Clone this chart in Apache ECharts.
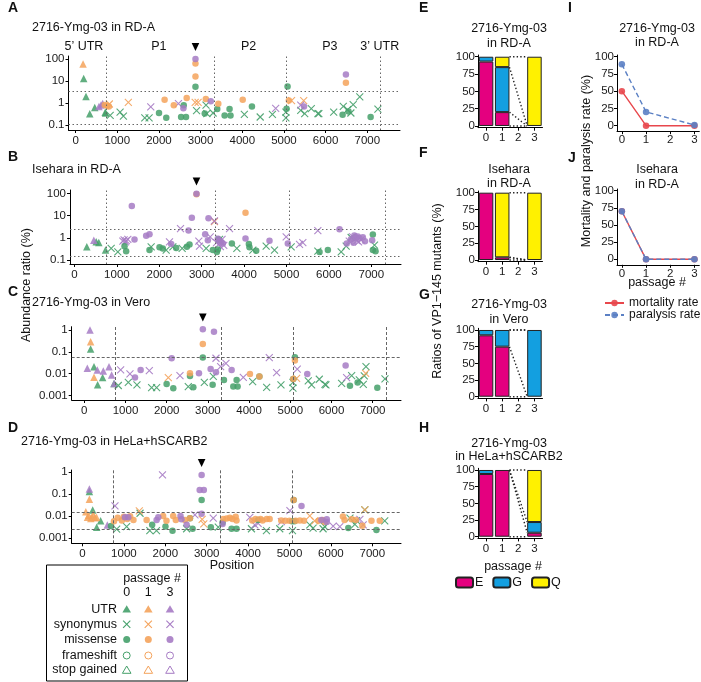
<!DOCTYPE html>
<html>
<head>
<meta charset="UTF-8">
<title>VP1-145 passage figure</title>
<style>
  html, body { margin: 0; padding: 0; background: #fff; }
  #main { width: 701px; height: 682px; }
</style>
</head>
<body>
<div id="main"></div>
<script src="https://cdn.jsdelivr.net/npm/echarts@6/dist/echarts.min.js"></script>
<script>
var FONT = "'Liberation Sans', Arial, Helvetica, sans-serif";

// passage 0, 1, 3
var passColors = ['#45a06a', '#f4a35c', '#a67bc4'];
var passLabels = ['0', '1', '3'];
var typeNames = ['UTR', 'synonymus', 'missense', 'frameshift', 'stop gained'];

// genome layout
var regionBounds = [743, 3330, 5063, 7322];
var regionNames = ['5\u2019 UTR', 'P1', 'P2', 'P3', '3\u2019 UTR'];
var regionLabelPos = [200, 2000, 4150, 6100, 7300];
var vp1Pos = 2877;
var xTicks = [0, 1000, 2000, 3000, 4000, 5000, 6000, 7000];
var yTicksAB = [0.1, 1, 10, 100];
var yTicksCD = [0.001, 0.01, 0.1, 1];

// cut-off lines (%)
var thrA = [3.4, 0.105];
var thrB = [2.4, 0.155];
var thrC = [0.058];
var thrD = [0.0143, 0.00265];

// points: [position, abundance %, type (0 UTR,1 syn,2 missense), passage idx]
var ptsA = [
  [180,60,0,1],[195,13,0,0],[250,2,0,0],[460,0.63,0,0],[340,0.32,0,0],[650,0.95,0,2],[610,0.8,0,2],[560,0.7,0,2],
  [700,0.8,2,1],[760,0.75,2,1],[800,0.7,2,1],[810,0.9,1,1],[712,0.38,0,0],[720,0.35,0,0],
  [830,0.27,1,0],[1068,0.38,1,0],[1147,0.25,1,0],[1266,1.07,1,1],[1804,0.66,1,2],[1661,0.21,1,0],[1764,0.21,1,0],
  [2136,1.42,2,1],[2002,0.35,2,0],[2176,0.21,2,0],[2357,0.78,2,1],[2468,0.93,1,2],[2666,1.7,2,1],[2595,0.78,2,0],
  [2587,0.57,2,2],[2532,0.23,2,0],[2650,0.23,2,0],
  [2877,100,2,2],[2877,63,2,1],[2877,16,2,1],[2877,5.5,2,0],[2870,1.07,1,1],[2940,1.07,1,1],[2903,0.45,1,0],
  [3130,0.8,1,0],[3150,0.33,1,0],[3125,1.5,2,1],[3100,0.33,2,0],[3244,1.2,2,2],[3300,0.35,1,0],[3425,0.93,2,1],[3400,0.53,2,0],
  [3576,0.27,2,0],[3695,0.53,2,0],[3718,0.27,2,0],[4050,0.3,1,0],[4011,1.42,2,1],[4232,0.7,2,0],[4430,0.23,1,0],
  [4802,0.57,1,2],[4723,0.3,1,0],
  [5087,5.7,2,0],[5063,0.55,2,0],[5047,0.38,1,0],[5047,0.21,1,0],[5118,1.3,2,1],[5182,1.27,1,1],[5474,1.27,1,1],
  [5482,0.7,2,2],[5403,0.8,1,2],
  [5403,0.46,1,0],[5498,0.33,1,0],[5656,0.55,1,0],[5815,0.33,1,0],[5838,0.33,1,0],[6487,20,2,2],[6487,8.4,2,1],
  [6194,0.38,1,0],[6424,0.7,1,0],[6527,0.5,1,0],[6606,0.35,1,0],[6661,0.84,1,0],[6820,1.9,1,0],[6408,0.29,2,0],
  [6550,0.41,2,0],[7080,0.23,2,0],[7255,0.53,1,0]
];
var ptsB = [
  [291,0.39,0,0],[456,0.78,0,2],[511,0.66,0,0],[574,0.62,0,0],[731,0.28,0,0],
  [865,0.33,1,0],[1022,0.23,1,0],[1140,0.7,1,2],[1170,0.8,1,2],[1200,0.65,1,2],[1220,0.75,1,2],[1180,0.42,2,0],[1218,0.25,2,0],
  [1352,27,2,2],[1258,0.84,1,2],[1415,0.84,2,2],[1690,1.23,2,2],[1769,1.46,2,2],[1808,0.39,1,0],[1769,0.28,2,0],
  [2005,0.37,2,0],[2083,0.33,2,0],[2162,0.28,1,0],[2240,0.66,1,2],[2280,0.52,2,2],[2319,0.39,1,0],[2398,0.35,2,0],
  [2500,2.6,1,2],[2539,0.33,1,0],[2650,0.39,2,0],[2712,0.5,2,0],[2689,2.1,2,2],[2767,7.9,2,2],[2877,95,2,2],[2877,90,2,1],
  [2932,0.7,1,2],[2948,0.42,1,2],[3160,7.6,2,2],[3300,5.8,1,2],[3300,5.4,1,1],
  [3082,1.46,2,2],[3200,1.1,1,2],[3145,0.78,2,2],[3263,0.28,2,0],[3357,0.23,2,0],[3105,0.33,1,0],
  [3350,0.6,1,2],[3380,0.9,2,2],[3400,0.5,1,2],[3420,0.75,2,2],[3440,0.4,1,2],[3460,0.65,2,2],[3480,0.85,1,2],
  [3500,0.55,2,2],[3520,0.45,1,2],[3420,0.84,1,0],[3404,0.84,2,0],[3380,0.3,2,0],
  [3656,2.6,1,2],[3711,0.55,2,0],[3829,0.33,1,0],[4033,13.3,2,1],[4033,0.93,2,2],[4112,0.52,2,0],[4127,0.37,2,0],
  [4206,0.28,1,0],[4285,0.26,2,0],
  [4599,0.73,2,2],[4520,0.42,1,0],[4717,0.28,1,0],[4992,1.1,1,2],[5031,0.55,2,2],[5110,0.39,1,0],[5307,0.5,1,2],[5385,0.6,1,2],
  [5739,0.25,1,0],[5778,0.23,2,0],[5739,2.1,1,2],[5975,0.28,2,0],[6289,0.23,1,0],[6407,0.42,1,0],[6250,2.4,2,2],[6525,1.03,1,0],
  [6420,0.55,2,2],[6480,0.7,1,2],[6520,0.85,2,2],[6560,1.1,1,2],[6580,0.6,2,2],[6600,1.25,2,2],[6620,0.9,1,2],
  [6640,1.0,2,2],[6660,0.75,1,2],[6680,1.15,2,2],[6700,0.65,1,2],[6720,0.95,2,2],[6760,0.8,1,2],[6800,1.05,2,2],[6850,0.7,2,2],
  [7036,1.4,2,0],[7036,0.28,2,0],[7075,0.47,1,0],[7099,0.25,2,0],[7020,0.78,2,2]
];
var ptsC = [
  [138,1.0,0,2],[154,0.29,0,1],[154,0.136,0,0],[73,0.0178,0,2],[235,0.021,0,0],[316,0.015,0,2],[235,0.0069,0,1],
  [324,0.0031,0,0],[445,0.0067,0,0],[461,0.0133,0,2],[599,0.021,0,2],[663,0.0088,0,2],[720,0.0036,0,0],[725,0.0036,0,2],
  [825,0.0029,1,0],[882,0.015,1,2],[1068,0.004,1,0],[1108,0.0098,1,2],[1230,0.0067,2,2],[1367,0.015,2,2],[1278,0.0031,1,0],
  [1578,0.014,1,2],[1634,0.0023,1,0],[1755,0.0023,1,0],
  [2120,0.051,2,2],[1998,0.0034,2,0],[2160,0.0022,2,0],[2039,0.0067,1,1],[2322,0.0082,1,2],[2565,0.0105,2,1],
  [2565,0.0078,2,0],[2524,0.0026,1,0],[2646,0.0024,2,0],[2783,0.0105,2,2],
  [2877,1.07,2,2],[2877,0.23,2,1],[2877,0.055,2,0],[2913,0.004,1,0],[3147,0.84,2,2],[3066,0.0164,2,2],[3196,0.0116,2,2],
  [3196,0.051,1,2],[3131,0.0075,1,0],[3115,0.0031,2,0],
  [3309,0.021,1,2],[3438,0.03,1,2],[3390,0.0052,2,0],[3576,0.015,2,2],[3616,0.0026,2,0],[3721,0.0026,2,0],[3697,0.0052,2,0],
  [3859,0.0069,1,2],[4021,0.0098,2,1],[4250,0.0075,2,0],[4250,0.0075,2,1],
  [4086,0.0044,1,0],[4426,0.0024,1,0],[4490,0.055,1,2],[4668,0.0112,1,2],[4773,0.0031,1,0],[5112,0.056,2,0],[5112,0.04,2,1],
  [5169,0.0164,1,2],[5153,0.0062,1,1],[5072,0.0058,2,0],[5072,0.0058,2,1],[5064,0.0022,1,0],[5064,0.004,1,0],
  [5412,0.0098,2,2],[5436,0.0047,1,0],[5517,0.0031,1,0],[5704,0.0056,1,0],[5841,0.0033,1,0],[5865,0.0031,1,0],
  [6343,0.0235,2,2],[6367,0.0067,1,2],
  [6246,0.0036,1,0],[6489,0.0082,1,0],[6675,0.0052,1,0],[6796,0.0079,1,0],[6837,0.021,1,0],[6772,0.0033,1,0],
  [6448,0.0028,2,0],[6634,0.004,2,0],[6829,0.0105,1,1],[7112,0.0023,2,0],[7298,0.0058,1,0]
];
var ptsD = [
  [166,0.175,0,2],[166,0.133,0,0],[166,0.059,0,1],[80,0.016,0,1],[120,0.009,0,1],[150,0.011,0,1],[200,0.008,0,1],
  [230,0.009,0,1],[260,0.012,0,1],[300,0.0085,0,1],[340,0.009,0,1],[246,0.0194,0,0],[438,0.0063,0,0],[342,0.0032,0,0],
  [599,0.004,0,2],
  [688,0.0036,2,0],[784,0.0295,1,2],
  [760,0.006,2,1],[850,0.0085,2,1],[950,0.0065,2,1],[1000,0.0095,2,1],[1080,0.0075,2,1],[1150,0.01,2,1],[1230,0.0068,2,1],
  [825,0.0026,1,0],[1066,0.0034,1,0],[1026,0.009,2,2],[1106,0.009,2,2],[1372,0.0175,1,1],[1390,0.0137,1,0],
  [1549,0.0068,2,1],[1790,0.0068,2,2],[1830,0.009,2,2],[1682,0.0041,2,0],[1626,0.0022,1,0],[1787,0.0022,1,0],
  [1932,0.76,1,2],[1948,0.0104,2,1],[2028,0.0063,2,1],[2004,0.0034,2,0],[2190,0.0104,2,1],[2254,0.0068,2,1],
  [2174,0.0022,2,0],[2367,0.0104,2,2],[2390,0.0073,2,2],[2475,0.0068,2,1],[2515,0.0041,2,2],[2595,0.0082,2,1],
  [2595,0.0082,2,0],[2515,0.0027,1,0],[2659,0.0027,2,0],[2716,0.0115,1,2],
  [2877,0.76,2,2],[2830,0.157,2,2],[2930,0.157,2,2],[2877,0.055,2,0],[2877,0.0129,2,2],[2890,0.0073,1,1],[2930,0.0045,1,1],
  [3100,0.0032,2,0],[3158,0.0082,1,2],[3279,0.0032,1,0],[3400,0.0075,2,1],[3480,0.008,2,1],[3560,0.0085,2,1],
  [3620,0.0075,2,1],[3700,0.0095,2,1],[3720,0.0065,2,1],[3383,0.0052,2,0],[3600,0.0027,2,0],[3720,0.0027,2,0],
  [3383,0.0045,2,2],
  [4041,0.009,1,2],[4081,0.0027,1,0],[4100,0.0065,2,1],[4180,0.0075,2,1],[4300,0.0075,2,1],[4350,0.0065,2,1],
  [4450,0.0075,2,1],[4520,0.0075,2,1],[4242,0.0048,1,2],[4162,0.0041,1,2],[4242,0.0068,2,0],
  [4443,0.0022,1,0],[4764,0.0027,1,0],[4804,0.0057,1,2],[4800,0.0065,2,1],[4900,0.0062,2,1],[5000,0.0062,2,1],
  [5150,0.0062,2,1],[5250,0.0065,2,1],[5350,0.0062,2,1],[5010,0.0182,1,2],[5100,0.055,2,0],[5100,0.055,2,1],
  [5290,0.0295,2,2],[5072,0.0022,1,0],[5060,0.006,2,0],[5120,0.006,2,0],
  [5490,0.0104,1,1],[5610,0.0062,1,1],[5490,0.0041,1,0],[5570,0.0029,1,0],[5770,0.0068,2,2],[5900,0.0073,2,2],
  [5900,0.0055,2,2],[5700,0.0062,2,1],[5800,0.0068,2,1],[5850,0.0055,2,1],[5811,0.0027,1,0],[5850,0.0034,1,0],
  [6054,0.0036,1,2],[6215,0.0034,1,2],[6290,0.0098,2,1],[6330,0.0068,2,1],[6500,0.0073,2,1],[6600,0.0068,2,1],
  [6420,0.0029,2,0],[6460,0.0082,1,0],[6580,0.0043,1,0],[6620,0.0063,1,0],[6820,0.0194,1,0],[6820,0.0194,1,1],
  [6700,0.0073,1,2],[6780,0.0041,1,2],[6760,0.0037,2,1],[6980,0.0062,2,1],[7180,0.0062,2,1],[7100,0.0024,2,0],
  [7300,0.0062,1,0]
];

// VP1-145 variant ratios (%), rows E, G, Q; columns passage 0,1,2,3
var barCats = ['0', '1', '2', '3'];
var variantNames = ['E', 'G', 'Q'];
var variantColors = ['#e4007f', '#139fe0', '#fff100'];
var ratioE = [[93, 20, 0, 0], [7, 65, 0, 0], [0, 15, 0, 100]];
var ratioF = [[100, 4, 0, 0], [0, 0, 0, 0], [0, 96, 0, 100]];
var ratioG = [[92, 75, 0, 0], [8, 25, 0, 100], [0, 0, 0, 0]];
var ratioH = [[94, 100, 0, 6], [6, 0, 0, 16], [0, 0, 0, 78]];
var ratioTicks = [0, 25, 50, 75, 100];

// mouse experiments
var passX = [0, 1, 3];
var mortI = [50, 0, 0];
var paraI = [89, 20, 1];
var mortJ = [70, 0, 0];
var paraJ = [70, 0, 0];
var rateTicks = [0, 25, 50, 75, 100];
var rateColors = ['#e8474c', '#5b80c4'];

var chart = echarts.init(document.getElementById('main'));
var grids = [], xAxes = [], yAxes = [], series = [], graphics = [];

function axisBase(extra) {
  var a = {
    axisLine: {show: true, onZero: false, lineStyle: {color: '#000', width: 1}},
    axisTick: {show: true, length: 3, lineStyle: {color: '#000'}},
    axisLabel: {color: '#1a1a1a', fontSize: 11.5, fontFamily: FONT, margin: 3},
    splitLine: {show: false}
  };
  for (var k in extra) {
    if (a[k] && typeof extra[k] === 'object' && !Array.isArray(extra[k])) {
      for (var j in extra[k]) a[k][j] = extra[k][j];
    } else a[k] = extra[k];
  }
  return a;
}
function txt(x, y, s, o) {
  o = o || {};
  graphics.push({type: 'text', x: x, y: y, rotation: o.rot || 0, silent: true, z: 10,
    style: {text: s, fill: '#111', fontSize: o.size || 12, fontFamily: FONT, fontWeight: o.bold ? 'bold' : 'normal',
      align: o.align || 'left', verticalAlign: 'middle'}});
}
function logLabel(v) { return String(+Math.pow(10, v).toPrecision(1)); }

function symbolStyle(t, k) {
  var c = passColors[k];
  if (t === 1) {
    return {symbol: 'path://M0,0L10,10M10,0L0,10', symbolSize: 7,
      itemStyle: {color: 'none', borderColor: c, borderWidth: 1.1, opacity: 0.9}};
  }
  if (t === 0) return {symbol: 'triangle', symbolSize: 7.5, itemStyle: {color: c, opacity: 0.85}};
  return {symbol: 'circle', symbolSize: 6.5, itemStyle: {color: c, opacity: 0.85}};
}

// ---- A-D: mutation abundance along the genome
var scatterPanels = [
  {pts: ptsA, letter: 'A', title: '2716-Ymg-03 in RD-A', ticks: yTicksAB, thr: thrA, nBounds: 4, dash: [1.5, 2.5],
   grid: {left: 68.5, top: 56, width: 331.5, height: 74}, x: [-170, 7785], y: [-1.23, 2.14],
   letterY: 8, titleX: 32, titleY: 28, arrowY: 47},
  {pts: ptsB, letter: 'B', title: 'Isehara in RD-A', ticks: yTicksAB, thr: thrB, nBounds: 4, dash: [1.5, 2.5],
   grid: {left: 70, top: 190, width: 331, height: 74}, x: [-106, 7700], y: [-1.18, 2.15],
   letterY: 157, titleX: 32, titleY: 170, arrowY: 181.5},
  {pts: ptsC, letter: 'C', title: '2716-Ymg-03 in Vero', ticks: yTicksCD, thr: thrC, nBounds: 4, dash: [3, 2],
   grid: {left: 71.7, top: 326.7, width: 329.3, height: 73.3}, x: [-306, 7687], y: [-3.2, 0.15],
   letterY: 292, titleX: 32, titleY: 303, arrowY: 317.5},
  {pts: ptsD, letter: 'D', title: '2716-Ymg-03 in HeLa+hSCARB2', ticks: yTicksCD, thr: thrD, nBounds: 3, dash: [3, 2],
   grid: {left: 71.7, top: 470, width: 329.3, height: 73.3}, x: [-261, 7693], y: [-3.23, 0.105],
   letterY: 428, titleX: 21, titleY: 442, arrowY: 463}
];

scatterPanels.forEach(function (p, i) {
  grids.push(p.grid);
  xAxes.push(axisBase({type: 'value', gridIndex: i, min: p.x[0], max: p.x[1],
    axisTick: {customValues: xTicks},
    axisLabel: {customValues: xTicks, margin: 4.5, formatter: function (v) { return String(v); }}}));
  var yl = p.ticks.map(Math.log10);
  yAxes.push(axisBase({type: 'value', gridIndex: i, min: p.y[0], max: p.y[1],
    axisTick: {customValues: yl},
    axisLabel: {customValues: yl, margin: 4, formatter: logLabel}}));

  var refLines = regionBounds.slice(0, p.nBounds).map(function (b) { return {xAxis: b}; })
    .concat(p.thr.map(function (v) { return {yAxis: Math.log10(v)}; }));
  var first = true;
  for (var t = 0; t < 3; t++) {
    for (var k = 0; k < 3; k++) {
      var data = p.pts.filter(function (d) { return d[2] === t && d[3] === k; })
        .map(function (d) { return [d[0], Math.log10(d[1])]; });
      if (!data.length) continue;
      var s = {type: 'scatter', name: p.letter + '-' + typeNames[t] + '-' + passLabels[k],
        xAxisIndex: i, yAxisIndex: i, data: data, z: 3, silent: true};
      var st = symbolStyle(t, k);
      for (var key in st) s[key] = st[key];
      if (first) {
        s.markLine = {silent: true, symbol: 'none', label: {show: false}, animation: false,
          lineStyle: {color: '#666', width: 1, type: p.dash}, data: refLines};
        first = false;
      }
      series.push(s);
    }
  }
  txt(8, p.letterY, p.letter, {bold: true, size: 14});
  txt(p.titleX, p.titleY, p.title, {size: 12.5});
});

// ---- E-H: VP1-145 variant ratios
var barPanels = [
  {ratio: ratioE, letter: 'E', t1: '2716-Ymg-03', t2: 'in RD-A', grid: {left: 478, top: 55, width: 64.5, height: 72.7},
   letterY: 8, t1Y: 29, t2Y: 43.5},
  {ratio: ratioF, letter: 'F', t1: 'Isehara', t2: 'in RD-A', grid: {left: 478, top: 191, width: 64.5, height: 70.7},
   letterY: 153, t1Y: 170, t2Y: 184},
  {ratio: ratioG, letter: 'G', t1: '2716-Ymg-03', t2: 'in Vero', grid: {left: 478, top: 328.3, width: 64.5, height: 70.1},
   letterY: 295, t1Y: 305, t2Y: 319.5},
  {ratio: ratioH, letter: 'H', t1: '2716-Ymg-03', t2: 'in HeLa+hSCARB2', grid: {left: 478, top: 468.3, width: 64.5, height: 70.1},
   letterY: 428, t1Y: 443.5, t2Y: 457}
];

barPanels.forEach(function (p, j) {
  var gi = 4 + j;
  grids.push(p.grid);
  xAxes.push(axisBase({type: 'category', gridIndex: gi, data: barCats,
    axisTick: {alignWithLabel: true}, axisLabel: {margin: 4}}));
  yAxes.push(axisBase({type: 'value', gridIndex: gi, min: -2.5, max: 102.5,
    axisTick: {customValues: ratioTicks}, axisLabel: {customValues: ratioTicks}}));
  p.ratio.forEach(function (row, v) {
    series.push({type: 'bar', name: variantNames[v], xAxisIndex: 4 + j, yAxisIndex: gi, stack: 'r' + j,
      barWidth: '90%', silent: true,
      data: row.map(function (x) { return x > 0 ? x : '-'; }),
      itemStyle: {color: variantColors[v], borderColor: '#222', borderWidth: 1}});
  });
  // dotted connectors between passage 1 and passage 3 stacks
  var c1 = 0, c3 = 0, segs = [[0, 0]];
  p.ratio.forEach(function (row) { c1 += row[1]; c3 += row[3]; segs.push([c1, c3]); });
  segs.forEach(function (sg) {
    series.push({type: 'line', xAxisIndex: 10 + j, yAxisIndex: gi, symbol: 'none', silent: true, z: 1,
      data: [[1.45, sg[0]], [2.55, sg[1]]],
      lineStyle: {color: '#222', width: 1.4, type: [1.4, 2.2]}});
  });
  txt(419, p.letterY, p.letter, {bold: true, size: 14});
  txt(509, p.t1Y, p.t1, {align: 'center', size: 12.5});
  txt(509, p.t2Y, p.t2, {align: 'center', size: 12.5});
});

// ---- I-J: mortality / paralysis
var linePanels = [
  {mort: mortI, para: paraI, letter: 'I', t1: '2716-Ymg-03', t2: 'in RD-A',
   grid: {left: 617, top: 55, width: 82.3, height: 76.2}, letterY: 8, t1Y: 29, t2Y: 43},
  {mort: mortJ, para: paraJ, letter: 'J', t1: 'Isehara', t2: 'in RD-A',
   grid: {left: 617, top: 189, width: 82.3, height: 75.8}, letterY: 158, t1Y: 170, t2Y: 184.5}
];
linePanels.forEach(function (p, j) {
  var gi = 8 + j;
  grids.push(p.grid);
  xAxes.push(axisBase({type: 'value', gridIndex: gi, min: -0.2, max: 3.2,
    axisTick: {customValues: [0, 1, 2, 3]}, axisLabel: {customValues: [0, 1, 2, 3]}}));
  yAxes.push(axisBase({type: 'value', gridIndex: gi, min: -8, max: 102.5,
    axisTick: {customValues: rateTicks}, axisLabel: {customValues: rateTicks}}));
  [p.mort, p.para].forEach(function (vals, r) {
    series.push({type: 'line', name: r === 0 ? 'mortality rate' : 'paralysis rate',
      xAxisIndex: gi, yAxisIndex: gi, silent: true, z: 3 + r,
      data: vals.map(function (v, n) { return [passX[n], v]; }),
      symbol: 'circle', symbolSize: 6.5,
      itemStyle: {color: rateColors[r], opacity: 0.9},
      lineStyle: {color: rateColors[r], width: 1.4, type: r === 0 ? 'solid' : [5, 3]}});
  });
  txt(568, p.letterY, p.letter, {bold: true, size: 14});
  txt(657, p.t1Y, p.t1, {align: 'center', size: 12.5});
  txt(657, p.t2Y, p.t2, {align: 'center', size: 12.5});
});

// hidden value axes for the bar connectors (indices 10-13)
barPanels.forEach(function (p, j) {
  xAxes.push({type: 'value', gridIndex: 4 + j, min: -0.5, max: 3.5, show: false});
});

// axis titles
txt(27, 285, 'Abundance ratio (%)', {rot: Math.PI / 2, align: 'center', size: 12.5});
txt(232, 566, 'Position', {align: 'center', size: 12.5});
txt(438, 291, 'Ratios of VP1\u2212145 mutants (%)', {rot: Math.PI / 2, align: 'center', size: 12.5});
txt(513, 566.5, 'passage #', {align: 'center', size: 12.5});
txt(587, 161, 'Mortality and paralysis rate (%)', {rot: Math.PI / 2, align: 'center', size: 12.5});
txt(657, 283, 'passage #', {align: 'center', size: 12.5});

// legend box for mutation types
graphics.push({type: 'rect', silent: true, shape: {x: 46.5, y: 565, width: 141, height: 116},
  style: {fill: 'none', stroke: '#000', lineWidth: 1}});
txt(152, 578.5, 'passage #', {align: 'center', size: 12.5});
var legCols = [126.7, 148.3, 170];
var legRows = [609.3, 624.3, 639.5, 655.5, 670];
legCols.forEach(function (cx, k) { txt(cx, 593, passLabels[k], {align: 'center', size: 12.5}); });
typeNames.forEach(function (nm, t) {
  var cy = legRows[t];
  txt(117, cy, nm, {align: 'right', size: 12.5});
  legCols.forEach(function (cx, k) {
    var c = passColors[k];
    if (t === 0 || t === 4) {
      graphics.push({type: 'polygon', silent: true,
        shape: {points: [[cx, cy - 4], [cx + 4.3, cy + 3.3], [cx - 4.3, cy + 3.3]]},
        style: t === 0 ? {fill: c, opacity: 0.9} : {fill: 'none', stroke: c, lineWidth: 1}});
    } else if (t === 1) {
      graphics.push({type: 'polyline', silent: true, shape: {points: [[cx - 3.6, cy - 3.6], [cx + 3.6, cy + 3.6]]},
        style: {stroke: c, lineWidth: 1.1, fill: 'none'}});
      graphics.push({type: 'polyline', silent: true, shape: {points: [[cx + 3.6, cy - 3.6], [cx - 3.6, cy + 3.6]]},
        style: {stroke: c, lineWidth: 1.1, fill: 'none'}});
    } else {
      graphics.push({type: 'circle', silent: true, shape: {cx: cx, cy: cy, r: 3.5},
        style: t === 2 ? {fill: c, opacity: 0.9} : {fill: 'none', stroke: c, lineWidth: 1}});
    }
  });
});

var option = {
  animation: false,
  backgroundColor: '#fff',
  textStyle: {fontFamily: FONT},
  grid: grids,
  xAxis: xAxes,
  yAxis: yAxes,
  legend: [
    {data: ['mortality rate', 'paralysis rate'], orient: 'vertical', left: 604, top: 297, padding: 0,
     itemWidth: 19, itemHeight: 8, itemGap: 0, selectedMode: false,
     textStyle: {fontSize: 12, color: '#111', fontFamily: FONT}},
    {data: variantNames, orient: 'horizontal', left: 455, top: 576, padding: 0, itemWidth: 17, itemHeight: 10, itemGap: 9,
     selectedMode: false, textStyle: {fontSize: 12.5, color: '#111', fontFamily: FONT, padding: [0, 0, 0, -3]}}
  ],
  series: series,
  graphic: graphics
};
chart.setOption(option);

// genome region labels and VP1-145 arrow heads, placed through the axes
var extra = [];
regionNames.forEach(function (nm, r) {
  var px = chart.convertToPixel({gridIndex: 0}, [regionLabelPos[r], 0])[0];
  extra.push({type: 'text', x: px, y: 46.5, silent: true,
    style: {text: nm, fill: '#111', fontSize: 12.5, fontFamily: FONT, align: 'center', verticalAlign: 'middle'}});
});
scatterPanels.forEach(function (p, i) {
  var px = chart.convertToPixel({gridIndex: i}, [vp1Pos, 0])[0];
  var ay = p.arrowY;
  extra.push({type: 'polygon', silent: true,
    shape: {points: [[px - 3.8, ay - 4], [px + 3.8, ay - 4], [px, ay + 4]]}, style: {fill: '#000'}});
});
chart.setOption({graphic: graphics.concat(extra)});
</script>
</body>
</html>
